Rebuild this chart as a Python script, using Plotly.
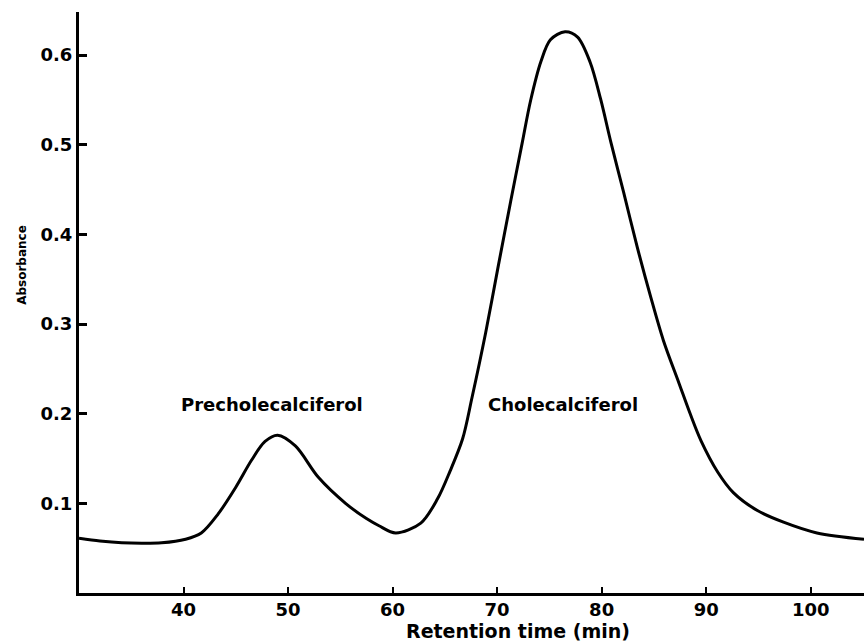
import plotly.graph_objects as go

# Retention time (min) and absorbance
time_min = [30.0, 32.0, 34.1, 36.0, 37.9, 40.2, 41.7, 43.3, 45.0, 46.5, 47.8, 49.0,
            50.7, 52.9, 55.5, 57.5, 58.7, 60.3, 62.7, 64.3, 65.5, 66.7, 67.6, 68.9,
            70.1, 71.3, 72.4, 73.2, 74.2, 75.1, 76.5, 77.7, 78.9, 79.9, 80.9, 82.1,
            83.4, 84.7, 85.9, 87.4, 88.5, 89.5, 91.1, 92.6, 94.9, 97.4, 100.6, 105.1]
absorbance = [0.061, 0.058, 0.056, 0.0555, 0.056, 0.060, 0.067, 0.088, 0.118, 0.148, 0.169, 0.176,
              0.164, 0.129, 0.100, 0.083, 0.075, 0.067, 0.078, 0.105, 0.136, 0.172, 0.218, 0.290,
              0.364, 0.437, 0.502, 0.549, 0.593, 0.617, 0.626, 0.620, 0.592, 0.551, 0.502, 0.447,
              0.386, 0.330, 0.282, 0.234, 0.199, 0.170, 0.135, 0.112, 0.092, 0.079, 0.067, 0.060]

x_ticks = [40, 50, 60, 70, 80, 90, 100]
y_ticks = [0.1, 0.2, 0.3, 0.4, 0.5, 0.6]
y_tick_labels = ["0.1", "0.2", "0.3", "0.4", "0.5", "0.6"]

peak_labels = ["Precholecalciferol", "Cholecalciferol"]
peak_label_x = [48.5, 76.3]
peak_label_y = [0.21, 0.21]

FONT = "DejaVu Sans"

fig = go.Figure()
fig.add_trace(go.Scatter(
    x=time_min, y=absorbance, mode="lines",
    line=dict(color="black", width=3, shape="spline", smoothing=0.9),
    showlegend=False, hoverinfo="skip",
))

for txt, lx, ly in zip(peak_labels, peak_label_x, peak_label_y):
    fig.add_annotation(x=lx, y=ly, xref="x", yref="y", text=txt, showarrow=False,
                       font=dict(family=FONT, size=18, color="black", weight="bold"),
                       xanchor="center", yanchor="middle")

fig.add_annotation(x=72.0, y=0, xref="paper" if False else "x", yref="paper", yshift=-38,
                   text="Retention time (min)", showarrow=False,
                   font=dict(family=FONT, size=19, color="black", weight="bold"),
                   xanchor="center", yanchor="middle")
fig.add_annotation(x=0, y=0.366, xref="paper", yref="y", xshift=-57,
                   text="Absorbance", textangle=-90, showarrow=False,
                   font=dict(family=FONT, size=12, color="black", weight="bold"),
                   xanchor="center", yanchor="middle")

fig.update_layout(
    width=864, height=641,
    margin=dict(l=79, r=0, t=12, b=48),
    paper_bgcolor="white", plot_bgcolor="white",
    font=dict(family=FONT, color="black"),
    xaxis=dict(range=[30, 105.1], tickvals=x_ticks, ticks="inside", ticklen=6, tickwidth=2,
               tickcolor="black", showline=True, linewidth=3, linecolor="black",
               showgrid=False, zeroline=False, ticklabelstandoff=-2,
               tickfont=dict(family=FONT, size=18, color="black", weight="bold")),
    yaxis=dict(range=[0, 0.648], tickvals=y_ticks, ticktext=y_tick_labels, ticks="inside",
               ticklen=8, tickwidth=3, tickcolor="black", showline=True, linewidth=3,
               linecolor="black", showgrid=False, zeroline=False,
               tickfont=dict(family=FONT, size=18, color="black", weight="bold")),
)

fig.write_html("out.html")
